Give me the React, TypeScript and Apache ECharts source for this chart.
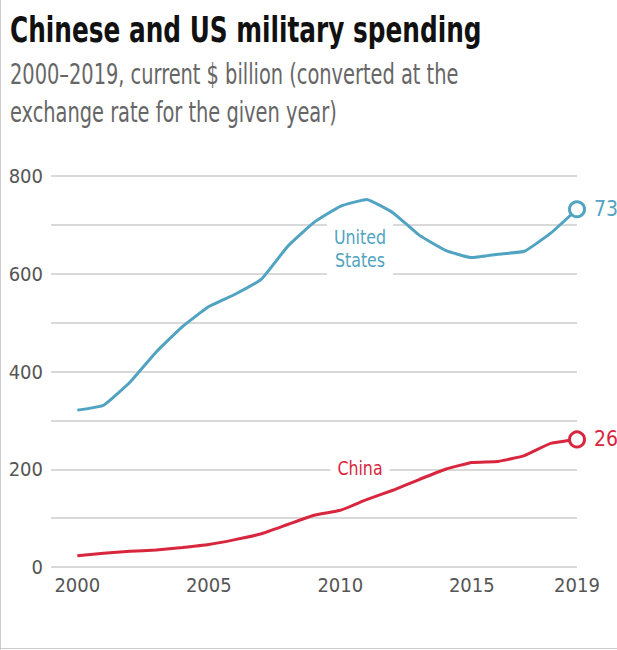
import React, { useEffect, useRef } from "react";
import * as echarts from "echarts";

const years = [2000, 2001, 2002, 2003, 2004, 2005, 2006, 2007, 2008, 2009, 2010, 2011, 2012, 2013, 2014, 2015, 2016, 2017, 2018, 2019];
const usSpending = [321, 331, 378, 440, 492, 533, 558, 589, 656, 705, 738, 752, 725, 679, 648, 633, 640, 646, 683, 732];
const chinaSpending = [23, 28, 32, 35, 40, 46, 56, 68, 87, 106, 116, 138, 157, 179, 200, 214, 216, 228, 253, 261];
const xTickLabels = [2000, 2005, 2010, 2015, 2019];
const yTicks = [0, 200, 400, 600, 800];

const US_COLOR = "#50a3c1";
const CN_COLOR = "#d7263d";
const FONT = "'DejaVu Sans Condensed', 'DejaVu Sans', sans-serif";

function buildData(vals: number[], color: string) {
  return years.map((yr, i) => {
    if (i === years.length - 1) {
      return {
        value: [yr, vals[i]],
        symbol: "circle",
        symbolSize: 15,
        itemStyle: { color: "#ffffff", borderColor: color, borderWidth: 3 },
        label: {
          show: true,
          position: "right",
          distance: 8,
          formatter: String(vals[i]),
          color,
          fontFamily: FONT,
          fontSize: 21,
        },
      };
    }
    return { value: [yr, vals[i]], symbol: "none" };
  });
}

export default function App() {
  const ref = useRef<HTMLDivElement>(null);
  useEffect(() => {
    document.body.style.margin = "0";
    const chart = echarts.init(ref.current!, null, { renderer: "svg" });
    chart.setOption({
      animation: false,
      backgroundColor: "#ffffff",
      grid: { left: 51, right: 40, top: 176, bottom: 83, containLabel: false },
      xAxis: {
        type: "value",
        min: 1999,
        max: 2019,
        axisLine: { show: false },
        axisTick: { show: false },
        splitLine: { show: false },
        axisLabel: {
          customValues: xTickLabels,
          color: "#555555",
          fontFamily: FONT,
          fontSize: 20,
          margin: 8,
          formatter: (v: number) => String(v),
        },
      },
      yAxis: {
        type: "value",
        min: 0,
        max: 800,
        interval: 100,
        axisLine: { show: false },
        axisTick: { show: false },
        splitLine: { show: true, lineStyle: { color: "#cccccc", width: 1.5 } },
        axisLabel: {
          color: "#555555",
          fontFamily: FONT,
          fontSize: 20,
          margin: 8,
          formatter: (v: number) => (yTicks.includes(v) ? String(v) : ""),
        },
      },
      graphic: [
        { type: "line", shape: { x1: 0.5, y1: 0, x2: 0.5, y2: 650 }, style: { stroke: "#cccccc", lineWidth: 1 } },
        { type: "line", shape: { x1: 0, y1: 648.5, x2: 617, y2: 648.5 }, style: { stroke: "#cccccc", lineWidth: 1 } },
        {
          type: "text",
          x: 10,
          y: 12,
          scaleX: 0.765,
          style: { text: "Chinese and US military spending", fill: "#111111", fontFamily: FONT, fontWeight: "bold", fontSize: 36 },
        },
        {
          type: "text",
          x: 10,
          y: 55,
          scaleX: 0.77,
          style: {
            text: "2000–2019, current $ billion (converted at the\nexchange rate for the given year)",
            fill: "#666666",
            fontFamily: FONT,
            fontSize: 28,
            lineHeight: 38,
          },
        },
        {
          type: "text",
          x: 360,
          y: 249,
          z: 1,
          scaleX: 0.88,
          style: {
            text: "United\nStates",
            fill: US_COLOR,
            fontFamily: FONT,
            fontSize: 20,
            lineHeight: 23,
            align: "center",
            verticalAlign: "middle",
            backgroundColor: "#ffffff",
            padding: [4, 8],
          },
        },
        {
          type: "text",
          x: 360,
          y: 468,
          z: 1,
          scaleX: 0.88,
          style: {
            text: "China",
            fill: CN_COLOR,
            fontFamily: FONT,
            fontSize: 20,
            align: "center",
            verticalAlign: "middle",
            backgroundColor: "#ffffff",
            padding: [2, 8],
          },
        },
      ],
      series: [
        {
          name: "United States",
          type: "line",
          data: buildData(usSpending, US_COLOR),
          showSymbol: true,
          smooth: 0.12,
          lineStyle: { color: US_COLOR, width: 3 },
          itemStyle: { color: US_COLOR },
          z: 3,
        },
        {
          name: "China",
          type: "line",
          data: buildData(chinaSpending, CN_COLOR),
          showSymbol: true,
          smooth: 0.12,
          lineStyle: { color: CN_COLOR, width: 3 },
          itemStyle: { color: CN_COLOR },
          z: 3,
        },
      ],
    });
    return () => chart.dispose();
  }, []);
  return <div ref={ref} style={{ width: 617, height: 650 }} />;
}
